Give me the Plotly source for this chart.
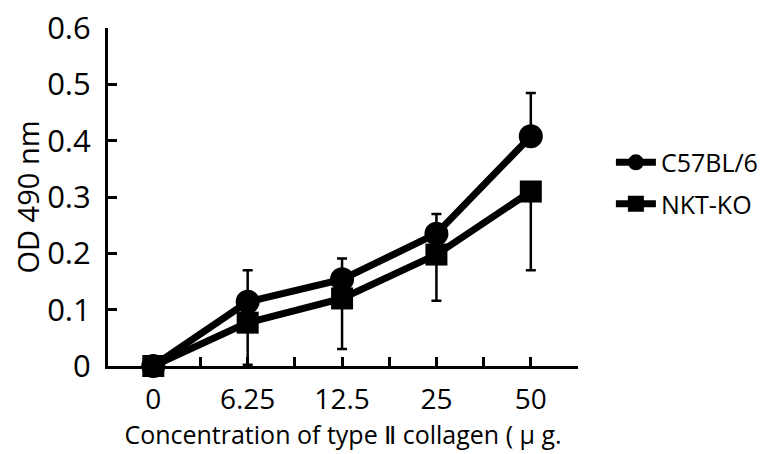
import plotly.graph_objects as go

categories = ["0", "6.25", "12.5", "25", "50"]
c57_values = [0.0, 0.114, 0.154, 0.235, 0.408]
c57_err_up = [0.0, 0.056, 0.037, 0.035, 0.077]
nkt_values = [0.0, 0.077, 0.120, 0.198, 0.310]
nkt_err_down = [0.0, 0.075, 0.090, 0.082, 0.140]

x_idx = list(range(len(categories)))
x_alias = {"0": "0", "0.5": "", "1": "6.25", "1.5": "", "2": "12.5", "2.5": "", "3": "25", "3.5": "", "4": "50", "4.5": ""}
FONT = "Open Sans"

fig = go.Figure()
fig.add_trace(go.Scatter(
    x=x_idx, y=c57_values, name="C57BL/6", mode="lines+markers", legendgroup="a",
    line=dict(color="black", width=7),
    marker=dict(symbol="circle", size=24, color="black"),
    error_y=dict(type="data", array=c57_err_up, arrayminus=[0]*5, symmetric=False,
                 color="black", thickness=2.5, width=5),
    cliponaxis=False,
))
fig.add_trace(go.Scatter(
    x=x_idx, y=nkt_values, name="NKT-KO", mode="lines+markers", legendgroup="b",
    line=dict(color="black", width=7),
    marker=dict(symbol="square", size=22, color="black"),
    error_y=dict(type="data", array=[0]*5, arrayminus=nkt_err_down, symmetric=False,
                 color="black", thickness=2.5, width=5),
    cliponaxis=False,
))

fig.update_layout(
    template="none",
    width=784, height=454,
    margin=dict(l=100, r=214, t=20, b=96, autoexpand=False),
    paper_bgcolor="white", plot_bgcolor="white",
    font=dict(family=FONT, color="black"),
    showlegend=True,
    legend=dict(x=1.07, y=0.67, xanchor="left", yanchor="top",
                font=dict(size=25, family=FONT), bgcolor="rgba(0,0,0,0)",
                itemwidth=40, traceorder="grouped", tracegroupgap=6),
)
fig.update_xaxes(
    automargin=False,
    range=[-0.48, 4.5],
    tickmode="linear", tick0=0, dtick=0.5, labelalias=x_alias,
    ticks="inside", ticklen=9, tickwidth=3, tickcolor="black",
    showline=True, linecolor="black", linewidth=3,
    showgrid=False, zeroline=False,
    tickfont=dict(size=28, family=FONT),
    ticklabelstandoff=6,
    title=dict(text="Concentration of type Ⅱ collagen ( μ g.", font=dict(size=25, family=FONT), standoff=8),
)
fig.update_yaxes(
    automargin=False,
    range=[0, 0.6005],
    tickmode="linear", tick0=0, dtick=0.1,
    ticks="inside", ticklen=9, tickwidth=3, tickcolor="black",
    showline=True, linecolor="black", linewidth=3,
    showgrid=False, zeroline=False,
    tickfont=dict(size=31, family=FONT),
    ticksuffix=" ",
    ticklabeloverflow="allow",
    title=dict(text="OD 490 nm", font=dict(size=29, family=FONT), standoff=0),
)

fig.write_html("out.html")
